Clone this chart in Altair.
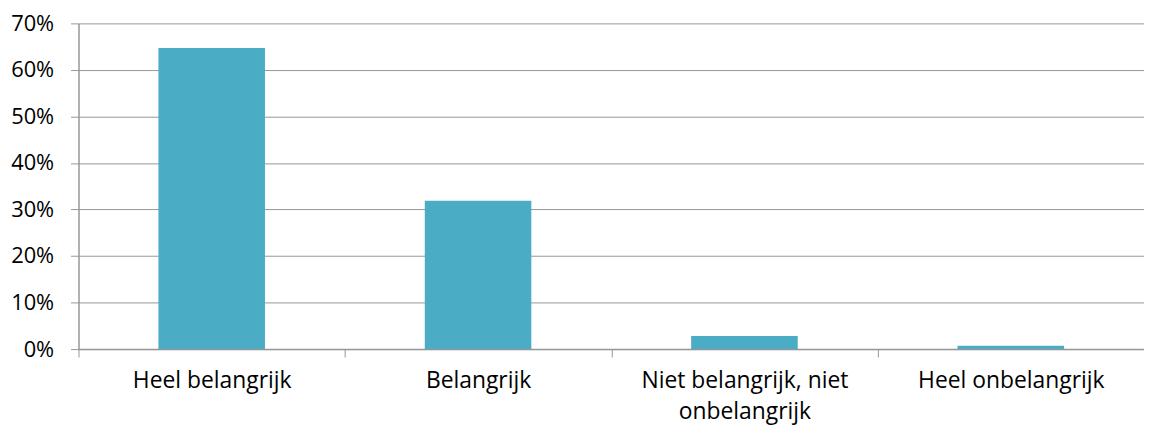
import altair as alt
import pandas as pd

categories = ["Heel belangrijk", "Belangrijk", "Niet belangrijk, niet onbelangrijk", "Heel onbelangrijk"]
values = [0.647, 0.319, 0.028, 0.007]

df = pd.DataFrame({"cat": categories, "val": values})

font = "Open Sans"
grid_col = "#969696"

label_expr = ("datum.label == 'Niet belangrijk, niet onbelangrijk' ? "
              "['Niet belangrijk, niet', 'onbelangrijk'] : datum.label")

chart = alt.Chart(df).mark_bar(color="#4BACC6", width={"band": 0.4}).encode(
    x=alt.X("cat:N", sort=categories, title=None,
            scale=alt.Scale(paddingInner=0, paddingOuter=0),
            axis=alt.Axis(labelAngle=0, labelExpr=label_expr, tickBand="extent",
                          tickSize=8, tickColor=grid_col, domainColor=grid_col,
                          labelFont=font, labelFontSize=23, labelColor="#000000",
                          labelPadding=13, labelLineHeight=31, labelLimit=400)),
    y=alt.Y("val:Q", title=None,
            scale=alt.Scale(domain=[0, 0.7], nice=False),
            axis=alt.Axis(format=".0%", values=[0, 0.1, 0.2, 0.3, 0.4, 0.5, 0.6, 0.7],
                          tickSize=8, tickColor=grid_col, domainColor=grid_col,
                          gridColor=grid_col, gridWidth=1,
                          labelFont=font, labelFontSize=22, labelColor="#000000",
                          labelPadding=17)),
).properties(
    width=1073, height=328,
    autosize=alt.AutoSizeParams(type="none"),
    padding={"left": 71, "top": 14, "right": 0, "bottom": 82},
).configure_view(stroke=None).configure_axis(domainWidth=1.5)

chart.save("out.html", embed_options={"renderer": "svg", "actions": False})
